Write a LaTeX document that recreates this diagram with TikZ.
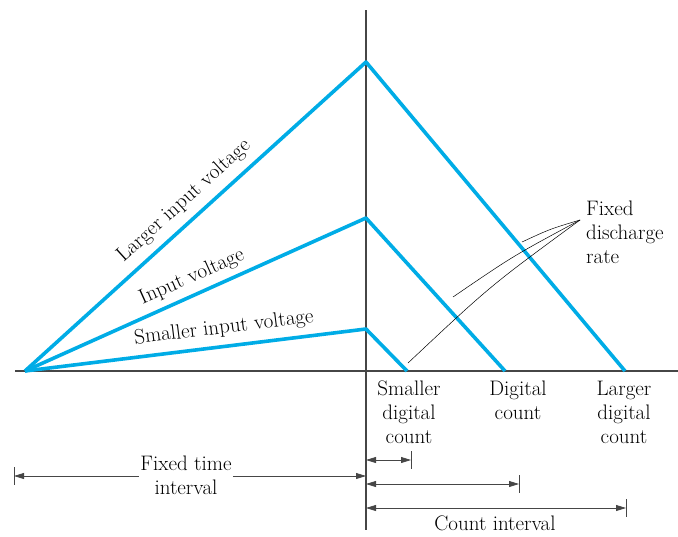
\documentclass[tikz,border=0pt]{standalone}
\usetikzlibrary{arrows.meta}
\definecolor{ramp}{RGB}{0,172,230}
\definecolor{axisgray}{RGB}{70,70,70}
\begin{document}
\begin{tikzpicture}[x=1pt,y=-1pt,
  rampline/.style={draw=ramp,line width=3.6pt,line join=round},
  axisline/.style={draw=axisgray,line width=1.3pt},
  dimline/.style={draw=axisgray,line width=0.8pt},
  lbl/.style={font=\fontsize{21}{24}\selectfont,align=center,inner sep=1pt},
  leader/.style={draw=black,line width=0.5pt},
  >={Triangle[length=10pt,width=6pt]}
]
\useasboundingbox (0,0) rectangle (678,536);
% axes
\coordinate (xl) at (15,371);
\coordinate (xr) at (678,371);
\coordinate (yt) at (366,10);
\coordinate (yb) at (366,530);
\draw[axisline] (xl) -- (xr);
\draw[axisline] (yt) -- (yb);
% ramps
\coordinate (o) at (25,371);
\coordinate (pL) at (366,62);
\coordinate (pM) at (366,218);
\coordinate (pS) at (366,329);
\coordinate (eS) at (407,371);
\coordinate (eM) at (505,371);
\coordinate (eL) at (625,371);
\draw[rampline] (o) -- (pL) -- (eL);
\draw[rampline] (o) -- (pM) -- (eM);
\draw[rampline] (o) -- (pS) -- (eS);
% ramp labels
\node[lbl,rotate=42.2] (tL) at (184,201) {Larger input voltage};
\node[lbl,rotate=24.2] (tM) at (192,277) {Input voltage};
\node[lbl,rotate=7] (tS) at (224,328) {Smaller input voltage};
% fixed discharge rate
\node[lbl,align=left,anchor=west] (fdr) at (585,232) {Fixed\\discharge\\rate};
\coordinate (lf) at (580,220);
\coordinate (l1) at (522,242);
\coordinate (l2) at (453,297);
\coordinate (l3) at (408,363);
\draw[leader] (lf) .. controls (550,229) .. (l1);
\draw[leader] (lf) .. controls (513,256) .. (l2);
\draw[leader] (lf) .. controls (490,286) .. (l3);
% count labels
\node[lbl] (cS) at (409,412) {Smaller\\digital\\count};
\node[lbl] (cM) at (518,400) {Digital\\count};
\node[lbl] (cL) at (624,412) {Larger\\digital\\count};
% fixed time interval
\coordinate (ftl) at (14,476);
\coordinate (ftr) at (366,476);
\node[lbl] (ft) at (186,475) {Fixed time\\interval};
\draw[dimline] (14,467) -- (14,485);
\draw[dimline,<-] (ftl) -- (ft.west |- ftl);
\draw[dimline,->] (ft.east |- ftr) -- (ftr);
% count intervals
\coordinate (a1) at (366,460);
\coordinate (b1) at (411,460);
\coordinate (a2) at (366,484);
\coordinate (b2) at (519,484);
\coordinate (a3) at (366,508);
\coordinate (b3) at (626,508);
\draw[dimline,<->] (a1) -- (b1);
\draw[dimline,<->] (a2) -- (b2);
\draw[dimline,<->] (a3) -- (b3);
\draw[dimline] (411,451) -- (411,469);
\draw[dimline] (519,475) -- (519,493);
\draw[dimline] (626,499) -- (626,517);
\node[lbl] (ci) at (495,523) {Count interval};
\end{tikzpicture}
\end{document}
